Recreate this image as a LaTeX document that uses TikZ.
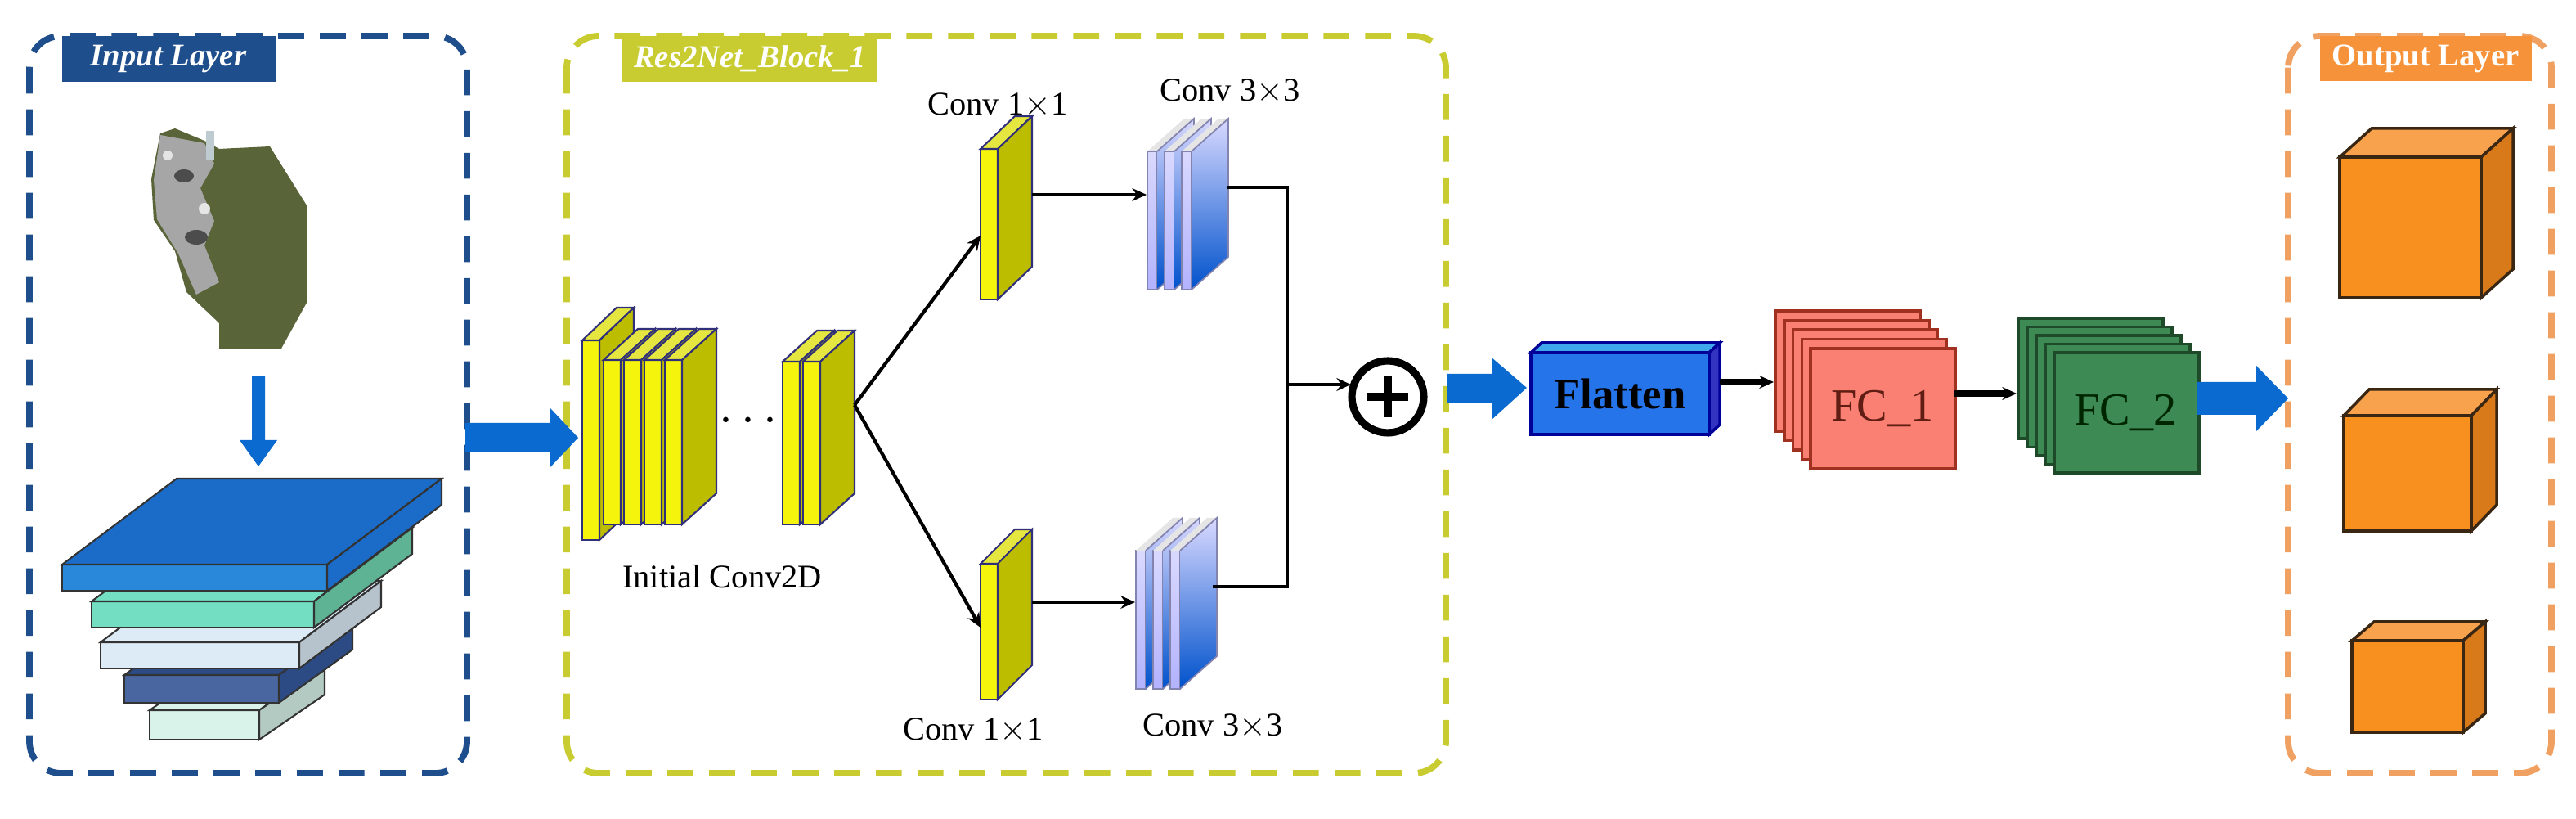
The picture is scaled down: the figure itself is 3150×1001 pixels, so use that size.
\documentclass[tikz,border=0pt]{standalone}
\usepackage{fontspec}
\setmainfont{Liberation Serif}
\usetikzlibrary{arrows.meta}
\definecolor{inblue}{HTML}{1F4E8C}
\definecolor{resol}{HTML}{C8CC30}
\definecolor{outor}{HTML}{F0A060}
\definecolor{bigblue}{HTML}{0A6AD0}
\definecolor{yfront}{HTML}{F4F40C}
\definecolor{ytop}{HTML}{E6E640}
\definecolor{yside}{HTML}{BDBD00}
\definecolor{edgeb}{HTML}{30307A}
\definecolor{cubef}{HTML}{F7901E}
\definecolor{cubet}{HTML}{F9A24E}
\definecolor{cubes}{HTML}{D97A1A}
\definecolor{fcred}{HTML}{F98072}
\definecolor{fcreddk}{HTML}{A03020}
\definecolor{fcgrn}{HTML}{3D8A55}
\definecolor{fcgrndk}{HTML}{1E4A2A}
\definecolor{slabA}{HTML}{1A6CC8}
\definecolor{slabAf}{HTML}{2A88DA}
\definecolor{slabB}{HTML}{74DEC2}
\definecolor{slabBs}{HTML}{5DB394}
\definecolor{slabC}{HTML}{DDEBF6}
\definecolor{slabCs}{HTML}{B7C3CC}
\definecolor{slabD}{HTML}{2C4A84}
\definecolor{slabDf}{HTML}{4A66A0}
\definecolor{slabE}{HTML}{D9F3EA}
\definecolor{slabEs}{HTML}{B3CAC2}
\newcommand\ysheet[6]{%
 \filldraw[fill=yfront,draw=edgeb,line width=0.6pt] (#1,#2) rectangle (#1+#4,#3);
 \filldraw[fill=ytop,draw=edgeb,line width=0.6pt] (#1,#2) -- (#1+#5,#2-#6) -- (#1+#4+#5,#2-#6) -- (#1+#4,#2) -- cycle;
 \filldraw[fill=yside,draw=edgeb,line width=0.6pt] (#1+#4,#2) -- (#1+#4+#5,#2-#6) -- (#1+#4+#5,#3-#6) -- (#1+#4,#3) -- cycle;}
\newcommand\bsheet[6]{%
 \shade[top color=white!85!blue,bottom color=blue!30!white] (#1,#2) rectangle (#1+#4,#3);
 \draw[edgeb!60,line width=0.5pt] (#1,#2) rectangle (#1+#4,#3);
 \fill[gray!20] (#1,#2) -- (#1+#5,#2-#6) -- (#1+#4+#5,#2-#6) -- (#1+#4,#2) -- cycle;
 \shade[top color=white!85!blue,middle color=teal!70!black,bottom color=blue!60!cyan!80!black] (#1+#4,#2) -- (#1+#4+#5,#2-#6) -- (#1+#4+#5,#3-#6) -- (#1+#4,#3) -- cycle;
 \draw[edgeb!60,line width=0.5pt] (#1+#4,#2) -- (#1+#4+#5,#2-#6) -- (#1+#4+#5,#3-#6) -- (#1+#4,#3);}
\newcommand\slab[9]{%
 \filldraw[fill=#8,draw=black!80,line width=0.6pt] (#1,#3) rectangle (#2,#3+#4);
 \filldraw[fill=#7,draw=black!80,line width=0.6pt] (#1,#3) -- (#1+#5,#3-#6) -- (#2+#5,#3-#6) -- (#2,#3) -- cycle;
 \filldraw[fill=#9,draw=black!80,line width=0.6pt] (#2,#3) -- (#2+#5,#3-#6) -- (#2+#5,#3-#6+#4) -- (#2,#3+#4) -- cycle;}
\newcommand\ocube[6]{%
 \filldraw[fill=cubef,draw=black!70!brown,line width=1pt] (#1,#3) rectangle (#2,#4);
 \filldraw[fill=cubet,draw=black!70!brown,line width=1pt] (#1,#3) -- (#1+#5,#3-#6) -- (#2+#5,#3-#6) -- (#2,#3) -- cycle;
 \filldraw[fill=cubes,draw=black!70!brown,line width=1pt] (#2,#3) -- (#2+#5,#3-#6) -- (#2+#5,#4-#6) -- (#2,#4) -- cycle;}
\tikzset{
 frame/.style={rounded corners=11pt,dash pattern=on 9pt off 5.5pt,line width=2.2pt},
 title/.style={font=\bfseries\itshape\fontsize{11}{13}\selectfont,text=white,inner sep=0pt},
 lbl/.style={font=\fontsize{11.5}{13}\selectfont},
 thin/.style={-{Stealth[length=5pt,width=4.5pt]},line width=1.2pt},
}
\begin{document}
\begin{tikzpicture}[x=0.01cm,y=-0.01cm]
\useasboundingbox (0,0) rectangle (3150,1001);
% frames
\draw[frame,inblue] (36,44) rectangle (571,945);
\draw[frame,resol] (693,44) rectangle (1768,945);
\draw[frame,outor] (2798,44) rectangle (3120,945);
\fill[inblue] (76,44) rectangle (337,100);
\node[title] (tin) at (206,72) {Input Layer};
\fill[resol] (761,44) rectangle (1073,100);
\node[title] (tres) at (917,72) {Res2Net\_Block\_1};
\fill[outor!60!orange] (2837,44) rectangle (3096,99);
\node[title,font=\bfseries\fontsize{11}{13}\selectfont] (tout) at (2966,72) {Output Layer};
% satellite image
\fill[black!60!olive!80!green] (196,163) -- (214,157) -- (250,172) -- (268,182) -- (330,179) -- (375,251) -- (375,370) -- (344,426) -- (268,426) -- (268,395) -- (228,357) -- (214,307) -- (188,269) -- (185,219) -- cycle;
\fill[gray!70] (196,165) -- (250,175) -- (262,200) -- (245,230) -- (262,270) -- (250,300) -- (268,345) -- (240,360) -- (218,310) -- (192,268) -- (188,220) -- cycle;
\fill[black!70] (225,215) ellipse (12 and 8);
\fill[black!70] (240,290) ellipse (14 and 9);
\fill[white!80!gray] (205,190) circle (6);
\fill[white!80!gray] (250,255) circle (7);
\fill[cyan!20!gray!50] (252,160) rectangle (262,195);
% down arrow
\fill[bigblue] (308,460) -- (324,460) -- (324,538) -- (339,538) -- (316,570) -- (293,538) -- (308,538) -- cycle;
% slabs
\slab{183}{317}{868}{36}{80}{55}{slabE}{slabE}{slabEs}
\slab{152}{341}{825}{34}{90}{65}{slabD}{slabDf}{slabD}
\slab{123}{366}{785}{32}{100}{75}{slabC}{slabC}{slabCs}
\slab{112}{384}{735}{32}{120}{90}{slabB}{slabB}{slabBs}
\slab{76}{400}{690}{32}{140}{105}{slabA}{slabAf}{slabA}
% arrow input -> res
\fill[bigblue] (569,517) -- (672,517) -- (672,498) -- (707,535) -- (672,572) -- (672,553) -- (569,553) -- cycle;
% initial conv stack
\ysheet{712}{416}{660}{21}{42}{40}
\ysheet{738}{440}{641}{21}{42}{38}
\ysheet{763}{440}{641}{21}{42}{38}
\ysheet{788}{440}{641}{21}{42}{38}
\ysheet{813}{440}{641}{21}{42}{38}
\node[lbl] (init) at (883,705) {Initial Conv2D};
\node[font=\fontsize{16}{16}\selectfont] (dots) at (915,515) {$\cdots$};
\ysheet{957}{442}{641}{21}{42}{38}
\ysheet{982}{442}{641}{21}{42}{38}
\coordinate (branch) at (1045,495);
% conv 1x1
\ysheet{1199}{182}{366}{21}{42}{40}
\ysheet{1199}{689}{855}{21}{42}{42}
\coordinate (c1t) at (1199,288);
\coordinate (c1b) at (1199,767);
\node[lbl] (l1t) at (1220,129) {Conv 1$\times$1};
\node[lbl] (l1b) at (1190,893) {Conv 1$\times$1};
% conv 3x3
\bsheet{1403}{185}{354}{12}{45}{40}
\bsheet{1424}{185}{354}{12}{45}{40}
\bsheet{1445}{185}{354}{12}{45}{40}
\bsheet{1389}{673}{842}{12}{45}{40}
\bsheet{1410}{673}{842}{12}{45}{40}
\bsheet{1431}{673}{842}{12}{45}{40}
\node[lbl] (l3t) at (1504,112) {Conv 3$\times$3};
\node[lbl] (l3b) at (1483,888) {Conv 3$\times$3};
\coordinate (a1s) at (1262,238); \coordinate (a1e) at (1402,238);
\coordinate (a2s) at (1262,736); \coordinate (a2e) at (1388,736);
\draw[thin] (branch) -- (c1t);
\draw[thin] (branch) -- (c1b);
\draw[thin] (a1s) -- (a1e);
\draw[thin] (a2s) -- (a2e);
% merge
\coordinate (m1) at (1501,229); \coordinate (m2) at (1483,717);
\coordinate (mj) at (1574,470);
\draw[line width=1.2pt] (m1) -| (mj) |- (m2);
\node[circle,draw,line width=2.6pt,minimum size=25pt,inner sep=0pt] (plus) at (1697,485) {};
\draw[line width=2.6pt] ([xshift=-7pt]plus.center) -- ([xshift=7pt]plus.center);
\draw[line width=2.6pt] ([yshift=-7pt]plus.center) -- ([yshift=7pt]plus.center);
\coordinate (pin) at (1652,470);
\draw[thin] (mj) -- (pin);
% arrow to flatten
\fill[bigblue] (1770,457) -- (1824,457) -- (1824,437) -- (1867,474) -- (1824,513) -- (1824,493) -- (1770,493) -- cycle;
% flatten
\filldraw[fill=blue!60!cyan!90!black!85,draw=blue!60!black,line width=1pt] (1872,431) rectangle (2090,531);
\filldraw[fill=blue!40!cyan!90!black!75,draw=blue!60!black,line width=1pt] (1872,431) -- (1885,419) -- (2103,419) -- (2090,431) -- cycle;
\filldraw[fill=blue!70!black!80,draw=blue!60!black,line width=1pt] (2090,431) -- (2103,419) -- (2103,519) -- (2090,531) -- cycle;
\node[font=\bfseries\fontsize{15}{16}\selectfont] (flat) at (1981,481) {Flatten};
% FC1
\foreach \i in {0,...,4} {\filldraw[fill=fcred,draw=fcreddk,line width=1pt] (2171+10.75*\i,380+11.5*\i) rectangle (2348+10.75*\i,527+11.5*\i);}
\node[font=\fontsize{16}{18}\selectfont,text=fcreddk!60!black] (fc1) at (2302,500) {FC\_1};
% FC2
\foreach \i in {0,...,4} {\filldraw[fill=fcgrn,draw=fcgrndk,line width=1pt] (2468+11*\i,389+10.5*\i) rectangle (2645+11*\i,536+10.5*\i);}
\node[font=\fontsize{16}{18}\selectfont,text=black!85!green] (fc2) at (2599,505) {FC\_2};
\coordinate (f1s) at (2103,467); \coordinate (f1e) at (2169,467);
\coordinate (f2s) at (2390,481); \coordinate (f2e) at (2466,481);
\draw[thin,line width=2pt] (f1s) -- (f1e);
\draw[thin,line width=2pt] (f2s) -- (f2e);
% output arrow
\fill[bigblue] (2686,467) -- (2759,467) -- (2759,447) -- (2798,487) -- (2759,527) -- (2759,507) -- (2686,507) -- cycle;
% cubes
\ocube{2861}{3034}{192}{364}{39}{35}
\ocube{2866}{3022}{508}{649}{31}{32}
\ocube{2876}{3012}{783}{895}{27}{23}
\end{tikzpicture}
\end{document}
